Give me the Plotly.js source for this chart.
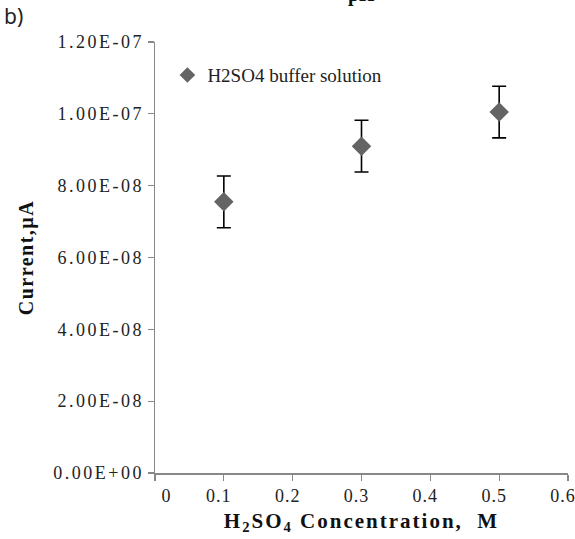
<!DOCTYPE html>
<html>
<head>
<meta charset="utf-8">
<script src="https://cdn.plot.ly/plotly-3.0.1.min.js"></script>
<style>
html,body{margin:0;padding:0;background:#fff;}
#chart{width:575px;height:539px;}
#chart .ytick text{letter-spacing:2.5px;}
#chart .xtick text{letter-spacing:1px;}
#chart .g-xtitle text{letter-spacing:2px;}
#chart .g-ytitle text{letter-spacing:1.5px;}
</style>
</head>
<body>
<div id="chart"></div>
<script>
const concentration = [0.1, 0.3, 0.5];
const current = [7.55e-8, 9.10e-8, 1.005e-7];
const currentErr = [0.72e-8, 0.72e-8, 0.72e-8];
const seriesName = "H2SO4 buffer solution";
const yTickVals = [0, 2e-8, 4e-8, 6e-8, 8e-8, 1e-7, 1.2e-7];
const yTickText = ["0.00E+00", "2.00E-08", "4.00E-08", "6.00E-08", "8.00E-08", "1.00E-07", "1.20E-07"];
const xTickVals = [0, 0.1, 0.2, 0.3, 0.4, 0.5, 0.6];
const xTickText = ["&nbsp;&nbsp;&nbsp;&nbsp;&nbsp;&nbsp;0", "0.1", "0.2", "0.3", "0.4", "0.5", "0.6"];

const serif = "Liberation Serif, Times New Roman, serif";

const trace = {
  type: "scatter",
  mode: "markers",
  x: concentration,
  y: current,
  name: seriesName,
  marker: {symbol: "diamond", size: 15, color: "#646464"},
  error_y: {type: "data", array: currentErr, visible: true, color: "#000", thickness: 1.6, width: 7}
};

const layout = {
  width: 575, height: 539,
  margin: {l: 155, r: 7, t: 42, b: 66},
  paper_bgcolor: "#fff", plot_bgcolor: "#fff",
  showlegend: true,
  legend: {
    x: 0.03, y: 0.923, xanchor: "left", yanchor: "middle",
    font: {family: serif, size: 19, color: "#222"},
    bgcolor: "rgba(0,0,0,0)", itemsizing: "constant"
  },
  xaxis: {
    range: [0, 0.6],
    tickvals: xTickVals, ticktext: xTickText,
    ticklabeloverflow: "allow",
    ticklabelshift: -5,
    showgrid: false, zeroline: false,
    showline: true, linecolor: "#888", linewidth: 1.5,
    ticks: "outside", ticklen: 6, tickcolor: "#888", tickwidth: 1.2,
    tickfont: {family: serif, size: 18, color: "#222"},
    title: {text: "H<sub>2</sub>SO<sub>4</sub> Concentration,&nbsp;&nbsp;M", font: {family: serif, size: 21, color: "#111", weight: "bold"}, standoff: 8}
  },
  yaxis: {
    range: [0, 1.2e-7],
    tickvals: yTickVals, ticktext: yTickText,
    ticklabeloverflow: "allow",
    showgrid: false, zeroline: false,
    showline: true, linecolor: "#888", linewidth: 1.5,
    ticks: "outside", ticklen: 6, tickcolor: "#888", tickwidth: 1.2,
    tickfont: {family: serif, size: 18, color: "#222"},
    title: {text: "Current,µA", font: {family: serif, size: 20, color: "#111", weight: "bold"}, standoff: 34}
  },
  annotations: [
    {text: "b)", xref: "paper", yref: "paper", x: -0.37, y: 1.0, xanchor: "left", yanchor: "bottom",
     showarrow: false, font: {family: "Noto Sans, sans-serif", size: 21, color: "#222"}, yshift: 10},
    {text: "pH", xref: "paper", yref: "paper", x: 0.5, y: 1.0, xanchor: "center", yanchor: "bottom",
     showarrow: false, font: {family: serif, size: 20, color: "#111", weight: "bold"}, yshift: 34}
  ]
};

Plotly.newPlot("chart", [trace], layout, {displayModeBar: false, staticPlot: true});
</script>
</body>
</html>
